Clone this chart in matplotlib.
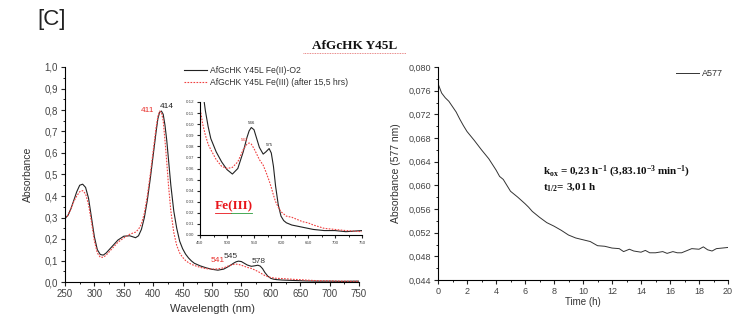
import matplotlib
matplotlib.use("Agg")
import matplotlib.pyplot as plt
from matplotlib.ticker import MultipleLocator, FuncFormatter

plt.rcParams['font.family'] = ['Liberation Sans', 'DejaVu Sans']
plt.rcParams['mathtext.fontset'] = 'custom'
plt.rcParams['mathtext.rm'] = 'Liberation Serif:bold'
plt.rcParams['mathtext.bf'] = 'Liberation Serif:bold'
plt.rcParams['mathtext.it'] = 'Liberation Serif:bold'

# UV-vis spectra (wavelength in nm, absorbance)
wavelength = [250, 255, 260, 265, 270, 275, 280, 285, 290, 295, 300, 305, 310, 315,
              320, 330, 340, 350, 360, 370, 375, 380, 385, 390, 395, 400, 405, 408,
              411, 414, 417, 420, 423, 426, 430, 435, 440, 445, 450, 455, 460, 465,
              470, 480, 490, 500, 510, 520, 530, 537, 541, 545, 550, 555, 560, 567,
              572, 578, 582, 586, 590, 595, 600, 605, 610, 620, 630, 640, 650,
              660, 680, 700, 720, 750]
fe2_o2 = [0.295, 0.31, 0.34, 0.38, 0.42, 0.45, 0.455, 0.44, 0.39, 0.30, 0.21, 0.15, 0.128, 0.125,
          0.135, 0.165, 0.195, 0.213, 0.215, 0.206, 0.215, 0.245, 0.30, 0.38, 0.48, 0.59, 0.70, 0.76,
          0.79, 0.795, 0.78, 0.73, 0.66, 0.57, 0.45, 0.33, 0.25, 0.19, 0.155, 0.13, 0.112, 0.098,
          0.087, 0.075, 0.066, 0.059, 0.055, 0.060, 0.075, 0.088, 0.094, 0.097, 0.095, 0.087, 0.079, 0.073,
          0.075, 0.078, 0.074, 0.062, 0.044, 0.027, 0.017, 0.013, 0.011, 0.009, 0.008, 0.007, 0.006,
          0.005, 0.004, 0.004, 0.003, 0.004]
fe3 = [0.295, 0.31, 0.34, 0.375, 0.40, 0.42, 0.425, 0.41, 0.36, 0.28, 0.19, 0.135, 0.115, 0.115,
       0.125, 0.155, 0.185, 0.205, 0.222, 0.232, 0.245, 0.27, 0.32, 0.40, 0.50, 0.61, 0.72, 0.77,
       0.795, 0.79, 0.75, 0.66, 0.56, 0.45, 0.33, 0.23, 0.17, 0.135, 0.115, 0.10, 0.09, 0.082,
       0.077, 0.068, 0.062, 0.060, 0.061, 0.066, 0.077, 0.082, 0.083, 0.082, 0.078, 0.073, 0.068, 0.063,
       0.057, 0.049, 0.043, 0.036, 0.030, 0.025, 0.021, 0.019, 0.017, 0.016, 0.014, 0.012, 0.011,
       0.009, 0.006, 0.005, 0.004, 0.003]

# A577 kinetics (time in h, absorbance at 577 nm)
time_h = [0, 0.25, 0.5, 0.75, 1.0, 1.25, 1.5, 1.75, 2.0, 2.5, 3.0, 3.5, 4.0, 4.25, 4.5,
          5.0, 5.5, 6.0, 6.25, 6.5, 7.0, 7.5, 8.0, 8.5, 9.0, 9.5, 10.0, 10.5, 11.0, 11.5,
          12.0, 12.5, 12.8, 13.2, 13.5, 14.0, 14.3, 14.6, 15.0, 15.5, 15.8, 16.2, 16.5,
          16.8, 17.2, 17.5, 18.0, 18.3, 18.6, 18.9, 19.2, 19.6, 20.0]
a577 = [0.0772, 0.0756, 0.0748, 0.0742, 0.0733, 0.0724, 0.0712, 0.0701, 0.0691, 0.0676, 0.0660, 0.0645, 0.0626, 0.0615, 0.0610,
        0.0590, 0.0580, 0.0569, 0.0563, 0.0556, 0.0546, 0.0537, 0.0531, 0.0524, 0.0516, 0.0511, 0.0508, 0.0505, 0.0498, 0.0497,
        0.0494, 0.0493, 0.0488, 0.0492, 0.0489, 0.0487, 0.0490, 0.0486, 0.0486, 0.0488, 0.0485, 0.0488, 0.0486,
        0.0486, 0.0490, 0.0493, 0.0492, 0.0496, 0.0491, 0.0489, 0.0493, 0.0494, 0.0495]

W, H = 735, 320
fig = plt.figure(figsize=(W / 100, H / 100), dpi=100)


def rect(x0, y0, x1, y1):
    return [x0 / W, 1 - y1 / H, (x1 - x0) / W, (y1 - y0) / H]


def comma(fmt):
    return FuncFormatter(lambda v, p: (fmt % v).replace('.', ','))


def style(ax, size, tlen=3.0):
    for s in ('top', 'right'):
        ax.spines[s].set_visible(False)
    ax.tick_params(which='major', direction='out', length=tlen, width=0.8,
                   labelsize=size, colors='#222222', labelcolor='#444444', pad=2)
    ax.tick_params(which='minor', direction='out', length=tlen * 0.55, width=0.7, colors='#222222')


black = '#222222'
red = '#f04040'
red_txt = '#e8302c'
dots = (0, (1.5, 1.2))

# ---- spectra panel ----
ax1 = fig.add_axes(rect(65, 67, 359, 282))
ax1.plot(wavelength, fe2_o2, color=black, lw=0.8, label='AfGcHK Y45L Fe(II)-O2')
ax1.plot(wavelength, fe3, color=red, lw=0.8, ls=dots,
         label='AfGcHK Y45L Fe(III) (after 15,5 hrs)')
ax1.set_xlim(250, 750)
ax1.set_ylim(0, 1.0)
ax1.xaxis.set_major_locator(MultipleLocator(50))
ax1.xaxis.set_minor_locator(MultipleLocator(25))
ax1.yaxis.set_major_locator(MultipleLocator(0.1))
ax1.yaxis.set_minor_locator(MultipleLocator(0.05))
ax1.yaxis.set_major_formatter(comma('%.1f'))
style(ax1, 7)
ax1.set_xlabel('Wavelength (nm)', fontsize=8, color='#333333', labelpad=4)
ax1.set_ylabel('Absorbance', fontsize=7.5, color='#333333', labelpad=8)
ax1.legend(loc='upper left', bbox_to_anchor=(0.38, 1.04), frameon=False, fontsize=6.2,
           handlelength=2.6, handletextpad=0.4, labelspacing=0.35, labelcolor='#333333')

# peak labels: (wavelength, series, colour, pixel offset)
peak_labels = [(411, fe3, red_txt, (-12, -3)), (414, fe2_o2, black, (5, 1)),
               (541, fe3, red_txt, (-18, 0)), (545, fe2_o2, '#333333', (-8, 1)),
               (578, fe2_o2, '#333333', (1, 0))]
for x, series, c, (dx, dy) in peak_labels:
    y = series[wavelength.index(x)]
    ax1.annotate(str(x), (x, y), xytext=(dx, dy), textcoords='offset pixels',
                 fontsize=6, color=c, ha='center', va='bottom')

# ---- inset: visible region ----
ax2 = fig.add_axes(rect(200, 102, 362, 235))
ax2.plot(wavelength, fe2_o2, color=black, lw=0.8)
ax2.plot(wavelength, fe3, color=red, lw=0.8, ls=dots)
ax2.set_xlim(450, 750)
ax2.set_ylim(0, 0.12)
ax2.xaxis.set_major_locator(MultipleLocator(50))
ax2.xaxis.set_minor_locator(MultipleLocator(25))
ax2.yaxis.set_major_locator(MultipleLocator(0.01))
ax2.yaxis.set_major_formatter(FuncFormatter(lambda v, p: '%.2f' % v))
style(ax2, 3.2, tlen=2)
ax2.patch.set_alpha(0)
ax2.annotate('546', (545, 0.097), xytext=(0, 2), textcoords='offset pixels',
             fontsize=3.2, color=black, ha='center', va='bottom')
ax2.annotate('541', (541, 0.083), xytext=(-5, 1), textcoords='offset pixels',
             fontsize=3.2, color=red_txt, ha='center', va='bottom')
ax2.annotate('575', (578, 0.078), xytext=(0, 2), textcoords='offset pixels',
             fontsize=3.2, color=black, ha='center', va='bottom')
fig.text(215 / W, 1 - 206 / H, 'Fe(III)', fontsize=9.5, fontweight='bold', color='#e8141a',
         family='Liberation Serif', ha='left', va='center')
fig.add_artist(plt.Line2D([215 / W, 231 / W], [1 - 213 / H] * 2, color='#e8141a', lw=0.6,
                          transform=fig.transFigure))
fig.add_artist(plt.Line2D([231 / W, 252 / W], [1 - 213 / H] * 2, color='#2a9a3a', lw=0.6,
                          transform=fig.transFigure))

# ---- kinetics panel ----
ax3 = fig.add_axes(rect(438, 67, 728, 280))
ax3.plot(time_h, a577, color='#333333', lw=0.7, label='A577')
ax3.set_xlim(0, 20)
ax3.set_ylim(0.044, 0.080)
ax3.xaxis.set_major_locator(MultipleLocator(2))
ax3.xaxis.set_minor_locator(MultipleLocator(1))
ax3.yaxis.set_major_locator(MultipleLocator(0.004))
ax3.yaxis.set_minor_locator(MultipleLocator(0.002))
ax3.yaxis.set_major_formatter(comma('%.3f'))
style(ax3, 6.5)
ax3.set_xlabel('Time (h)', fontsize=7, color='#333333', labelpad=1)
ax3.set_ylabel('Absorbance (577 nm)', fontsize=7.5, color='#333333', labelpad=5)
ax3.legend(loc='upper right', bbox_to_anchor=(1.01, 1.03), frameon=False, fontsize=6.5,
           handlelength=2.6, handletextpad=0.3, labelcolor='#333333')
ax3.text(0.362, 0.505, r'k$_{ox}$ = 0,23 h$^{-1}$ (3,83.10$^{-3}$ min$^{-1}$)',
         transform=ax3.transAxes, fontsize=8, fontweight='bold', family='Liberation Serif',
         color='#111111', ha='left', va='center')
ax3.text(0.362, 0.435, r't$_{1/2}$= 3,01 h', transform=ax3.transAxes, fontsize=8,
         fontweight='bold', family='Liberation Serif', color='#111111', ha='left', va='center')

# ---- headings ----
fig.text(37 / W, 1 - 20 / H, '[C]', fontsize=16, color='#222222', ha='left', va='center')
fig.text(355 / W, 1 - 46 / H, 'AfGcHK Y45L', fontsize=9.5, fontweight='bold',
         family='Liberation Serif', color='#111111', ha='center', va='center')
fig.add_artist(plt.Line2D([303 / W, 406 / W], [1 - 52.5 / H] * 2, color='#e06060', lw=0.6,
                          ls=(0, (1, 1)), transform=fig.transFigure))

fig.savefig('out.png', dpi=100)
